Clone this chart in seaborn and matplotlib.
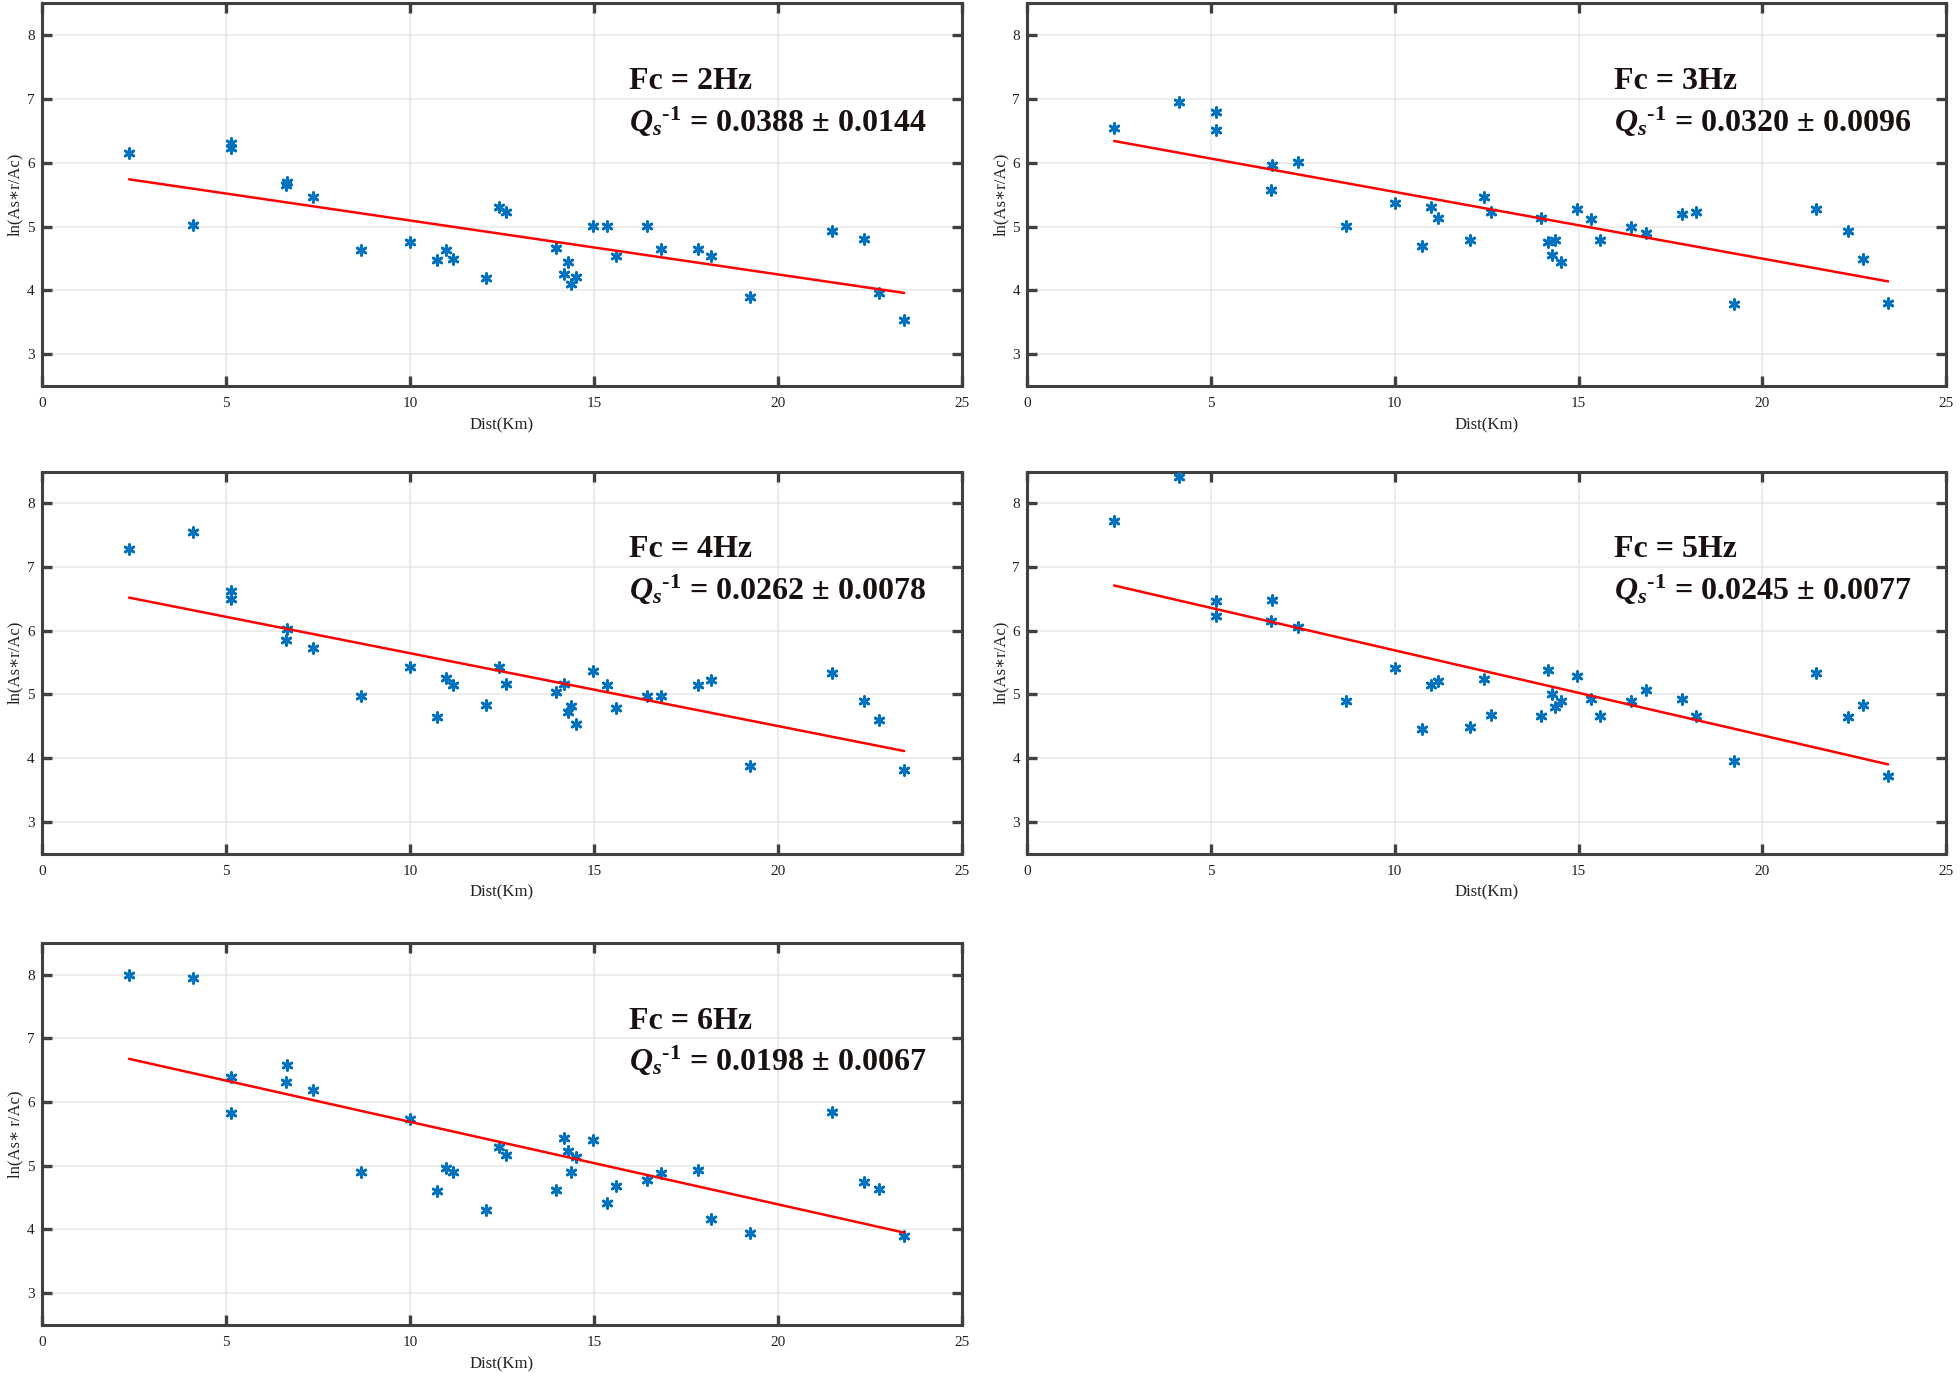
import numpy as np
import pandas as pd
import matplotlib
matplotlib.use('Agg')
import matplotlib.pyplot as plt
import seaborn as sns

# distances of the stations (km), same for every frequency
dist = [2.37, 4.12, 5.14, 5.14, 6.63, 6.66, 7.36, 8.67, 10.0, 10.74, 10.99, 11.18,
        12.06, 12.43, 12.62, 13.97, 14.18, 14.28, 14.37, 14.51, 14.97, 15.34, 15.59,
        16.43, 16.82, 17.82, 18.18, 19.24, 21.45, 22.34, 22.74, 23.42]

# ln(As*r/Ac)
fc2 = [6.15, 5.02, 6.31, 6.23, 5.65, 5.70, 5.46, 4.64, 4.75, 4.47, 4.63, 4.49,
       4.19, 5.31, 5.23, 4.66, 4.26, 4.45, 4.10, 4.21, 5.01, 5.01, 4.54,
       5.01, 4.65, 4.65, 4.54, 3.90, 4.93, 4.80, 3.96, 3.53]
fc3 = [6.55, 6.95, 6.80, 6.52, 5.58, 5.96, 6.01, 5.01, 5.37, 4.69, 5.31, 5.13,
       4.79, 5.47, 5.22, 5.13, 4.76, 4.55, 4.79, 4.44, 5.27, 5.12, 4.79,
       4.99, 4.90, 5.19, 5.23, 3.79, 5.27, 4.93, 4.49, 3.80]
fc4 = [7.29, 7.55, 6.63, 6.50, 5.85, 6.03, 5.73, 4.98, 5.43, 4.65, 5.25, 5.15,
       4.83, 5.43, 5.17, 5.04, 5.17, 4.73, 4.82, 4.54, 5.36, 5.14, 4.78,
       4.97, 4.97, 5.15, 5.22, 3.88, 5.34, 4.89, 4.60, 3.81]
fc5 = [7.72, 8.42, 6.46, 6.23, 6.16, 6.49, 6.06, 4.90, 5.41, 4.45, 5.15, 5.21,
       4.48, 5.24, 4.67, 4.66, 5.38, 5.00, 4.80, 4.90, 5.29, 4.92, 4.66,
       4.89, 5.07, 4.92, 4.66, 3.95, 5.33, 4.65, 4.84, 3.72]
fc6 = [8.00, 7.95, 6.39, 5.83, 6.31, 6.59, 6.19, 4.90, 5.73, 4.60, 4.97, 4.91,
       4.31, 5.30, 5.17, 4.62, 5.44, 5.23, 4.90, 5.14, 5.41, 4.41, 4.69,
       4.78, 4.88, 4.94, 4.17, 3.94, 5.85, 4.75, 4.64, 3.90]

freqs = ['2', '3', '4', '5', '6']
qs_val = ['0.0388', '0.0320', '0.0262', '0.0245', '0.0198']
qs_err = ['0.0144', '0.0096', '0.0078', '0.0077', '0.0067']
# fitted line value at the nearest and farthest station
fit_start = [5.74, 6.34, 6.52, 6.71, 6.68]
fit_end = [3.96, 4.14, 4.11, 3.90, 3.95]
ylabels = ['ln(As\u2217r/Ac)'] * 4 + ['ln(As\u2217 r/Ac)']

series = [fc2, fc3, fc4, fc5, fc6]

sns.set_style('white')
plt.rcParams['font.family'] = ['Liberation Serif', 'DejaVu Serif']
plt.rcParams['mathtext.fontset'] = 'custom'
plt.rcParams['mathtext.it'] = 'Liberation Serif:italic:bold'
plt.rcParams['mathtext.rm'] = 'Liberation Serif:bold'
plt.rcParams['mathtext.bf'] = 'Liberation Serif:bold'

fig = plt.figure(figsize=(19.6, 13.74), dpi=100)

positions = [
    [0.0213, 0.7190, 0.4697, 0.2787],
    [0.5240, 0.7190, 0.4690, 0.2787],
    [0.0213, 0.3788, 0.4697, 0.2780],
    [0.5240, 0.3788, 0.4690, 0.2780],
    [0.0213, 0.0357, 0.4697, 0.2780],
]

edge = '#404040'
txt = '#1a1010'
sup = r'$^{\mathit{' + '\u2010' + r'1}}$'
for i in range(5):
    ax = fig.add_axes(positions[i])
    df = pd.DataFrame({'dist': dist, 'val': series[i]})
    sns.scatterplot(data=df, x='dist', y='val', ax=ax, marker=(6, 2, 0),
                    s=50, color='#0072BD', edgecolor='#0072BD', linewidth=2.0,
                    zorder=3)
    line = pd.DataFrame({'dist': [min(dist), max(dist)],
                         'val': [fit_start[i], fit_end[i]]})
    sns.lineplot(data=line, x='dist', y='val', ax=ax, color='red',
                 linewidth=1.8, zorder=4)
    ax.set_xlim(0, 25)
    ax.set_ylim(2.5, 8.5)
    ax.set_xticks([0, 5, 10, 15, 20, 25])
    ax.set_yticks([3, 4, 5, 6, 7, 8])
    ax.grid(True, color='#e8e8e8', linewidth=1.1)
    ax.set_axisbelow(True)
    for s in ax.spines.values():
        s.set_color(edge)
        s.set_linewidth(2.2)
        s.set_visible(True)
    ax.tick_params(direction='in', length=7, width=2.4, color=edge,
                   top=True, right=True, bottom=True, left=True,
                   labelsize=11, labelcolor='#222222')
    ax.tick_params(axis='x', pad=8)
    ax.tick_params(axis='y', pad=5)
    ax.set_xlabel('Dist(Km)', fontsize=12, color='#222222', labelpad=5)
    ax.set_ylabel(ylabels[i], fontsize=12, color='#222222')
    ax.yaxis.set_label_coords(-0.020, 0.5)
    ax.text(15.95, 7.27, 'Fc = ' + freqs[i] + 'Hz', fontsize=23,
            fontweight='bold', va='center', ha='left', color=txt)
    ax.text(15.95, 6.64, r'$Q_s$' + sup + ' = ' + qs_val[i] + ' \u00b1 ' + qs_err[i],
            fontsize=23, fontweight='bold', va='center', ha='left', color=txt)

fig.savefig('out.png', dpi=100)
